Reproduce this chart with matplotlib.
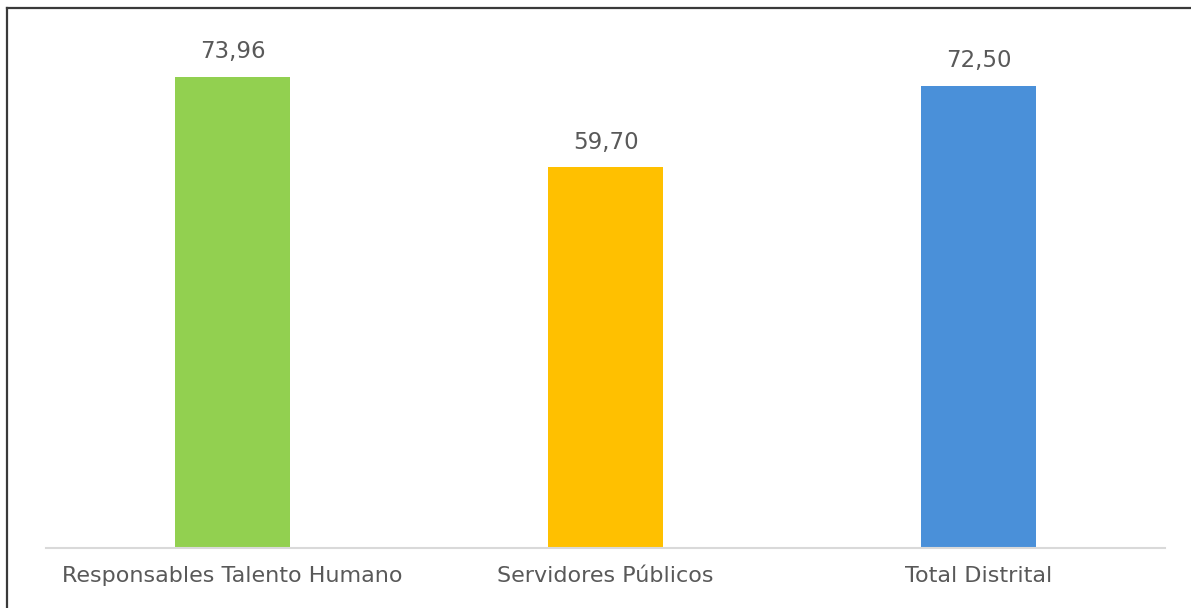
import matplotlib.pyplot as plt
from matplotlib.lines import Line2D

# Data
categorias = ['Responsables Talento Humano', 'Servidores Públicos', 'Total Distrital']
valores = [73.96, 59.70, 72.50]
colores = ['#92D050', '#FFC000', '#4A90D9']

plt.rcParams['font.family'] = ['DejaVu Sans']

fig = plt.figure(figsize=(11.91, 6.08), dpi=100)
ax = fig.add_axes([0.0386, 0.0987, 0.9396, 0.8388])

x = range(len(categorias))
barras = ax.bar(x, valores, width=0.31, color=colores)

# Value labels with comma decimals
for b, v in zip(barras, valores):
    ax.annotate(f'{v:.2f}'.replace('.', ','),
                (b.get_x() + b.get_width() / 2, v),
                xytext=(0, 10), textcoords='offset points',
                ha='center', va='bottom', fontsize=16.5, color='#595959')

ax.set_xlim(-0.5, 2.5)
ax.set_ylim(0, 80)
ax.set_xticks(list(x))
ax.set_xticklabels(categorias, fontsize=16, color='#595959')
ax.tick_params(axis='x', length=0, pad=13)
ax.set_yticks([])

for s in ['top', 'right', 'left']:
    ax.spines[s].set_visible(False)
ax.spines['bottom'].set_color('#D9D9D9')
ax.spines['bottom'].set_linewidth(1.5)

# Frame lines on the top and left edge of the figure
W, H = 1191, 608
fig.add_artist(Line2D([7 / W, 7 / W], [0, 1 - 8 / H], color='#3a3a3a', lw=1.6))
fig.add_artist(Line2D([7 / W, 1], [1 - 8 / H, 1 - 8 / H], color='#3a3a3a', lw=1.6))

fig.savefig('out.png', dpi=100)
